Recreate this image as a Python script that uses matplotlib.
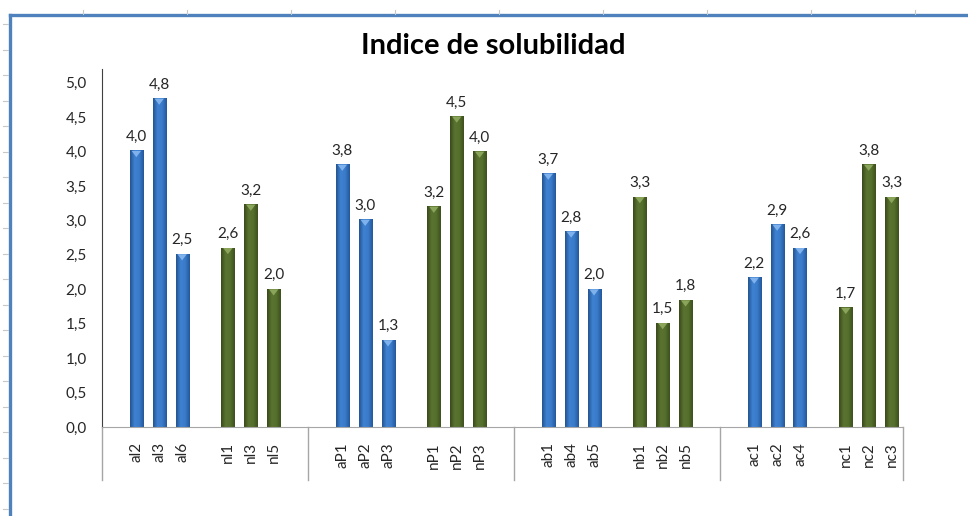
import numpy as np
import matplotlib.pyplot as plt
from matplotlib.colors import LinearSegmentedColormap
from matplotlib.lines import Line2D
from matplotlib.patches import Polygon

# data
blue_labels = ['al2', 'al3', 'al6', 'aP1', 'aP2', 'aP3', 'ab1', 'ab4', 'ab5', 'ac1', 'ac2', 'ac4']
blue_values = [4.01, 4.77, 2.51, 3.81, 3.01, 1.26, 3.68, 2.84, 2.0, 2.17, 2.94, 2.6]
green_labels = ['nl1', 'nl3', 'nl5', 'nP1', 'nP2', 'nP3', 'nb1', 'nb2', 'nb5', 'nc1', 'nc2', 'nc3']
green_values = [2.6, 3.23, 2.0, 3.2, 4.51, 4.0, 3.34, 1.51, 1.84, 1.73, 3.81, 3.34]
y_ticks = [0.0, 0.5, 1.0, 1.5, 2.0, 2.5, 3.0, 3.5, 4.0, 4.5, 5.0]

plt.rcParams['font.family'] = ['Lato', 'DejaVu Sans']

W, H = 968, 516
fig = plt.figure(figsize=(W / 100, H / 100), dpi=100)
ax = fig.add_axes([102 / W, 89 / H, 801 / W, 358 / H])

# slot layout: 9 slots per group (gap, 3 blue, gap, 3 green, gap)
blue_pos = [9 * (i // 3) + 1 + i % 3 for i in range(len(blue_values))]
green_pos = [9 * (i // 3) + 5 + i % 3 for i in range(len(green_values))]

blue_cmap = LinearSegmentedColormap.from_list('b', ['#23548f', '#3f82d2', '#3a7bc9', '#24579a'])
green_cmap = LinearSegmentedColormap.from_list('g', ['#3a4a1c', '#5a7330', '#55702c', '#3d501e'])
grad = np.linspace(0, 1, 64).reshape(1, -1)


def draw_bars(pos, vals, cmap, tip):
    bars = ax.bar(pos, vals, width=0.57, color='none', zorder=2)
    for b in bars:
        x, w, h = b.get_x(), b.get_width(), b.get_height()
        ax.imshow(grad, extent=[x, x + w, 0, h], aspect='auto', cmap=cmap, zorder=2)
        ax.add_patch(Polygon([(x + 0.08, h), (x + w - 0.08, h), (x + w / 2, h - 0.09)],
                             color=tip, zorder=3, lw=0))
        ax.annotate(f'{h:.1f}'.replace('.', ','), (x + w / 2, h), xytext=(0, 5),
                    textcoords='offset points', ha='center', va='bottom',
                    fontsize=11, color='#262626')


draw_bars(blue_pos, blue_values, blue_cmap, '#7fb2ec')
draw_bars(green_pos, green_values, green_cmap, '#8aa55a')

ax.set_xlim(-0.5, 34.5)
ax.set_ylim(0, 5.2)
ax.set_yticks(y_ticks)
ax.set_yticklabels([f'{t:.1f}'.replace('.', ',') for t in y_ticks])
ax.set_xticks(blue_pos + green_pos)
ax.set_xticklabels(blue_labels + green_labels, rotation=90)
ax.tick_params(axis='y', length=0, pad=11, labelsize=11, labelcolor='#262626')
ax.tick_params(axis='x', length=0, pad=11, labelsize=11, labelcolor='#262626')

for s in ['top', 'right']:
    ax.spines[s].set_visible(False)
ax.spines['left'].set_color('#404040')
ax.spines['bottom'].set_color('#a6a6a6')

# group dividers under the axis
for b in [-0.5, 8.5, 17.5, 26.5, 34.5]:
    ax.plot([b, b], [0, -0.77], color='#a6a6a6', lw=1, clip_on=False)

fig.text(493 / W, 1 - 46 / H, 'Indice de solubilidad', ha='center', va='center',
         fontsize=21, fontweight='bold', color='black')

# chart frame and faint sheet grid marks
fig.add_artist(Line2D([10 / W, 1], [1 - 15 / H] * 2, color='#4f81bd', lw=2.4))
fig.add_artist(Line2D([10 / W] * 2, [0, 1 - 15 / H], color='#4f81bd', lw=2.4))
for yy in np.arange(24, H, 25.5):
    fig.add_artist(Line2D([3 / W, 8 / W], [1 - yy / H] * 2, color='#c8c8c8', lw=0.8))
for xx in np.arange(83, W, 104):
    fig.add_artist(Line2D([xx / W] * 2, [1 - 10 / H, 1 - 14 / H], color='#c8c8c8', lw=0.8))

fig.savefig('out.png', dpi=100)
